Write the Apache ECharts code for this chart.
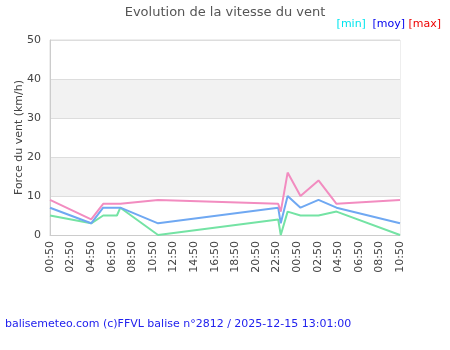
<!DOCTYPE html>
<html>
<head>
<meta charset="utf-8">
<script src="https://cdn.jsdelivr.net/npm/echarts@6/dist/echarts.min.js"></script>
<style>
  html, body { margin: 0; padding: 0; background: #fff; }
  #chart { width: 450px; height: 350px; }
</style>
</head>
<body>
<div id="chart"></div>
<script>
// Observation times (local) and wind speeds in km/h
const times = [
  '2025-12-14 00:50', '2025-12-14 04:50', '2025-12-14 06:00', '2025-12-14 07:20',
  '2025-12-14 07:40', '2025-12-14 11:20', '2025-12-14 23:00', '2025-12-14 23:15',
  '2025-12-14 23:55', '2025-12-15 01:10', '2025-12-15 02:55', '2025-12-15 04:40',
  '2025-12-15 10:50'
];
const windMin = [5, 3, 5, 5, 7, 0, 4, 0, 6, 5, 5, 6, 0];
const windMoy = [7, 3, 7, 7, 7, 3, 7, 3, 10, 7, 9, 7, 3];
const windMax = [9, 4, 8, 8, 8, 9, 8, 6, 16, 10, 14, 8, 9];

const startTime = '2025-12-14 00:50';
const endTime = '2025-12-15 10:50';
const yTicks = [0, 10, 20, 30, 40, 50];

const FONT = 'DejaVu Sans';

function toMinutes(s) {
  const [d, t] = s.split(' ');
  const [Y, M, D] = d.split('-').map(Number);
  const [h, m] = t.split(':').map(Number);
  return Date.UTC(Y, M - 1, D, h, m) / 60000;
}
const t0 = toMinutes(startTime);
const xMax = toMinutes(endTime) - t0;

function pairs(vals) {
  return times.map((t, i) => [toMinutes(t) - t0, vals[i]]);
}
function fmtClock(v) {
  const total = ((Math.round(v) + 50) % 1440 + 1440) % 1440;
  const h = Math.floor(total / 60), m = total % 60;
  return String(h).padStart(2, '0') + ':' + String(m).padStart(2, '0');
}

const chart = echarts.init(document.getElementById('chart'), null, { renderer: 'canvas' });

function line(name, data, color) {
  return {
    name, type: 'line', data: pairs(data), showSymbol: false, symbol: 'none',
    lineStyle: { color, width: 2 }, itemStyle: { color }, animation: false, z: 3
  };
}

chart.setOption({
  animation: false,
  textStyle: { fontFamily: FONT },
  title: {
    text: 'Evolution de la vitesse du vent',
    left: 'center', top: 1,
    textStyle: { fontFamily: FONT, fontSize: 13, fontWeight: 'normal', color: '#555' }
  },
  grid: {
    left: 50, right: 50, top: 40, bottom: 115, show: true,
    borderColor: '#ddd', borderWidth: 1, outerBoundsMode: 'none', containLabel: false
  },
  xAxis: {
    type: 'value', min: 0, max: xMax, interval: 120,
    axisLine: { show: true, lineStyle: { color: '#ccc' } },
    axisTick: { show: false },
    splitLine: { show: false },
    axisLabel: {
      rotate: 90, margin: 6, fontFamily: FONT, fontSize: 11, color: '#444',
      formatter: fmtClock
    }
  },
  yAxis: {
    type: 'value', min: yTicks[0], max: yTicks[yTicks.length - 1], interval: 10,
    name: 'Force du vent (km/h)', nameLocation: 'middle', nameGap: 25,
    nameMoveOverlap: false,
    nameTextStyle: { fontFamily: FONT, fontSize: 11, color: '#444' },
    axisLine: { show: true, lineStyle: { color: '#ccc' } },
    axisTick: { show: false },
    axisLabel: { fontFamily: FONT, fontSize: 11, color: '#444', margin: 9 },
    splitLine: { show: true, lineStyle: { color: '#ddd', width: 1 } },
    splitArea: { show: true, areaStyle: { color: ['#ffffff', '#f2f2f2'] } }
  },
  graphic: [
    { type: 'text', right: 9, top: 18, style: { rich: {
        a: { fill: '#00e5ee', fontFamily: FONT, fontSize: 11 },
        b: { fill: '#0000ee', fontFamily: FONT, fontSize: 11 },
        c: { fill: '#ee0000', fontFamily: FONT, fontSize: 11 }
      }, text: '{a|[min]}  {b|[moy]} {c|[max]}' } },
    { type: 'text', left: 5, top: 319, style: {
        text: 'balisemeteo.com (c)FFVL balise n°2812 / 2025-12-15 13:01:00',
        fill: '#2222ee', fontFamily: FONT, fontSize: 11 } }
  ],
  series: [
    line('min', windMin, '#74e3a4'),
    line('moy', windMoy, '#6fa8f2'),
    line('max', windMax, '#f28cc0')
  ]
});
</script>
</body>
</html>
